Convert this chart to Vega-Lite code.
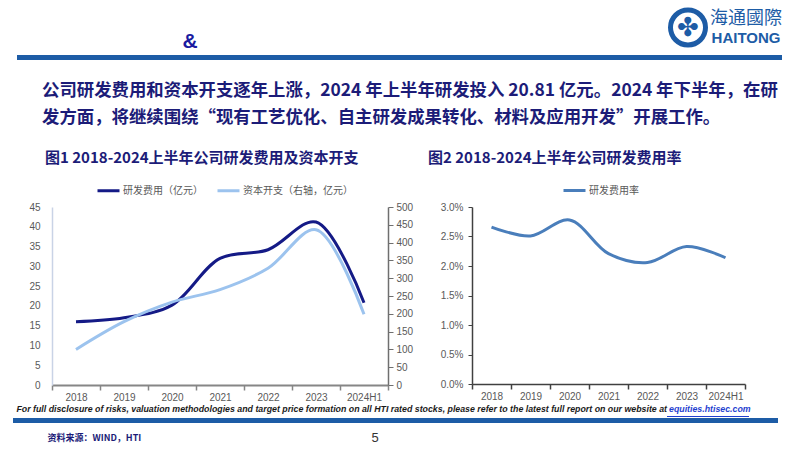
{
  "$schema": "https://vega.github.io/schema/vega-lite/v6.json",
  "padding": 0,
  "background": "white",
  "spacing": 0,
  "resolve": {"scale": {"x": "independent", "y": "independent", "color": "independent"}, "legend": {"color": "independent"}},
  "config": {
    "view": {"stroke": null},
    "concat": {"spacing": 0},
    "font": "Noto Sans CJK SC"
  },
  "datasets": {
    "one": [{"k": 1}],
    "amp": [{"t": "&"}],
    "logo1": [{"t": "海通國際"}],
    "logo2": [{"t": "HAITONG"}],
    "src": [{"t": "资料来源：WIND，HTI"}],
    "page": [{"t": "5"}],
    "rd": [
      {"year": "2018", "series": "研发费用（亿元）", "value": 16.0},
      {"year": "2019", "series": "研发费用（亿元）", "value": 17.0},
      {"year": "2020", "series": "研发费用（亿元）", "value": 20.2},
      {"year": "2021", "series": "研发费用（亿元）", "value": 32.0},
      {"year": "2022", "series": "研发费用（亿元）", "value": 34.2},
      {"year": "2023", "series": "研发费用（亿元）", "value": 41.2},
      {"year": "2024H1", "series": "研发费用（亿元）", "value": 20.81},
      {"year": "2018", "series": "资本开支（右轴，亿元）", "value": 100},
      {"year": "2019", "series": "资本开支（右轴，亿元）", "value": 178},
      {"year": "2020", "series": "资本开支（右轴，亿元）", "value": 233},
      {"year": "2021", "series": "资本开支（右轴，亿元）", "value": 268},
      {"year": "2022", "series": "资本开支（右轴，亿元）", "value": 328},
      {"year": "2023", "series": "资本开支（右轴，亿元）", "value": 436},
      {"year": "2024H1", "series": "资本开支（右轴，亿元）", "value": 199}
    ],
    "rate": [
      {"yr": "2018", "s": "研发费用率", "r": 0.0266},
      {"yr": "2019", "s": "研发费用率", "r": 0.0251},
      {"yr": "2020", "s": "研发费用率", "r": 0.0278},
      {"yr": "2021", "s": "研发费用率", "r": 0.0221},
      {"yr": "2022", "s": "研发费用率", "r": 0.0206},
      {"yr": "2023", "s": "研发费用率", "r": 0.0233},
      {"yr": "2024H1", "s": "研发费用率", "r": 0.0214}
    ]
  },
  "vconcat": [
    {
      "bounds": "flush",
      "hconcat": [
        {
          "width": 380, "height": 55,
          "data": {"name": "amp"},
          "layer": [
            {"mark": {"type": "rect", "opacity": 0}, "encoding": {}},
            {"mark": {"type": "text", "fontSize": 21, "fontWeight": "bold", "color": "#1a1aa0", "font": "Liberation Sans", "dy": 14}, "encoding": {"text": {"field": "t"}}}
          ]
        },
        {"width": 286, "height": 55, "data": {"name": "one"}, "mark": {"type": "rect", "opacity": 0}, "encoding": {}},
        {
          "width": 44, "height": 55,
          "data": {"name": "one"},
          "layer": [
            {"mark": {"type": "point", "shape": "circle", "size": 1225, "filled": false, "stroke": "#1d5ca6", "strokeWidth": 5, "opacity": 1}, "encoding": {}},
            {"mark": {"type": "text", "text": "✤", "fontSize": 26, "color": "#1d5ca6", "font": "DejaVu Sans"}, "encoding": {}}
          ]
        },
        {
          "width": 72, "height": 55,
          "layer": [
            {"data": {"name": "logo1"}, "mark": {"type": "text", "fontSize": 18, "color": "#1d5ca6", "dy": -9}, "encoding": {"text": {"field": "t"}}},
            {"data": {"name": "logo2"}, "mark": {"type": "text", "fontSize": 15, "fontWeight": "bold", "font": "Liberation Sans", "color": "#1d5ca6", "dy": 10}, "encoding": {"text": {"field": "t"}}}
          ]
        }
      ]
    },
    {
      "bounds": "flush",
      "hconcat": [
        {"width": 17, "height": 96, "data": {"name": "one"}, "mark": {"type": "rect", "opacity": 0}, "encoding": {}},
        {
          "width": 765, "height": 5,
          "data": {"name": "one"},
          "mark": {"type": "rect", "color": "#1d5ca6"},
          "encoding": {},
          "title": {
            "text": ["公司研发费用和资本开支逐年上涨，2024 年上半年研发投入 20.81 亿元。2024 年下半年，在研", "发方面，将继续围绕“现有工艺优化、自主研发成果转化、材料及应用开发”开展工作。"],
            "orient": "bottom", "anchor": "start", "frame": "group", "dx": 25, "offset": 21.5,
            "fontSize": 17.4, "fontWeight": "bold", "color": "#1c1c78", "lineHeight": 27, "font": "Noto Sans CJK SC"
          }
        }
      ]
    },
    {
      "bounds": "flush",
      "resolve": {"scale": {"x": "independent", "y": "independent", "color": "independent"}, "legend": {"color": "independent"}},
      "hconcat": [
        {"width": 52, "height": 198, "data": {"name": "one"}, "mark": {"type": "rect", "opacity": 0}, "encoding": {}},
        {
          "width": 336, "height": 178,
          "data": {"name": "rd"},
          "title": {"text": "图1 2018-2024上半年公司研发费用及资本开支", "anchor": "start", "frame": "group", "dx": -7, "offset": 12, "fontSize": 15, "fontWeight": "bold", "color": "#1c1c78", "font": "Noto Sans CJK SC"},
          "encoding": {
            "x": {
              "field": "year", "type": "ordinal", "sort": null, "bandPosition": 0.5,
              "scale": {"type": "band", "paddingInner": 0, "paddingOuter": 0},
              "axis": {"title": null, "labelAngle": 0, "domainColor": "#868686", "domainWidth": 2, "tickColor": "#868686", "tickWidth": 1.5, "tickSize": 5, "tickBand": "extent", "labelColor": "#595959", "labelFontSize": 10, "labelFont": "Liberation Sans", "labelPadding": 2}
            }
          },
          "layer": [
            {
              "transform": [{"filter": "datum.series === '研发费用（亿元）'"}],
              "mark": {"type": "line", "interpolate": "catmull-rom", "strokeWidth": 3},
              "encoding": {
                "y": {"field": "value", "type": "quantitative", "scale": {"domain": [0, 45]},
                  "axis": {"title": null, "orient": "left", "values": [0, 5, 10, 15, 20, 25, 30, 35, 40, 45], "grid": false, "ticks": false, "domainColor": "#c9d3e6", "domainWidth": 1.5, "labelColor": "#595959", "labelFontSize": 10, "labelFont": "Liberation Sans", "labelPadding": 12}},
                "color": {"field": "series", "type": "nominal",
                  "scale": {"domain": ["研发费用（亿元）", "资本开支（右轴，亿元）"], "range": ["#141a86", "#9cc3ee"]},
                  "legend": {"title": null, "orient": "none", "legendX": 44, "legendY": -29, "direction": "horizontal", "symbolType": "stroke", "symbolStrokeWidth": 3, "symbolSize": 484, "labelFontSize": 10, "labelColor": "#595959", "labelFont": "Noto Sans CJK SC", "columnPadding": 8, "labelOffset": 2}}
              }
            },
            {
              "transform": [{"filter": "datum.series === '资本开支（右轴，亿元）'"}],
              "mark": {"type": "line", "interpolate": "catmull-rom", "strokeWidth": 3},
              "encoding": {
                "y": {"field": "value", "type": "quantitative", "scale": {"domain": [0, 500]},
                  "axis": {"title": null, "orient": "right", "values": [0, 50, 100, 150, 200, 250, 300, 350, 400, 450, 500], "grid": false, "domainColor": "#6f6f6f", "domainWidth": 1.5, "tickColor": "#6f6f6f", "tickSize": 5, "labelColor": "#595959", "labelFontSize": 10, "labelFont": "Liberation Sans", "labelPadding": 3}},
                "color": {"field": "series", "type": "nominal"}
              }
            }
          ],
          "resolve": {"scale": {"y": "independent"}, "axis": {"y": "independent"}}
        },
        {"width": 84, "height": 178, "data": {"name": "one"}, "mark": {"type": "rect", "opacity": 0}, "encoding": {}},
        {
          "width": 273, "height": 177,
          "data": {"name": "rate"},
          "title": {"text": "图2 2018-2024上半年公司研发费用率", "anchor": "start", "frame": "group", "dx": -44, "offset": 12, "fontSize": 15, "fontWeight": "bold", "color": "#1c1c78", "font": "Noto Sans CJK SC"},
          "mark": {"type": "line", "interpolate": "catmull-rom", "strokeWidth": 3},
          "encoding": {
            "x": {
              "field": "yr", "type": "ordinal", "sort": null, "bandPosition": 0.5,
              "scale": {"type": "band", "paddingInner": 0, "paddingOuter": 0},
              "axis": {"title": null, "labelAngle": 0, "domainColor": "#404040", "domainWidth": 1.5, "tickColor": "#404040", "tickWidth": 1.5, "tickSize": 5, "tickBand": "extent", "labelColor": "#595959", "labelFontSize": 10, "labelFont": "Liberation Sans", "labelPadding": 2}
            },
            "y": {"field": "r", "type": "quantitative", "scale": {"domain": [0, 0.03]},
              "axis": {"title": null, "format": ".1%", "values": [0, 0.005, 0.01, 0.015, 0.02, 0.025, 0.03], "grid": false, "domainColor": "#404040", "domainWidth": 1.5, "tickColor": "#404040", "tickSize": 4, "labelColor": "#595959", "labelFontSize": 10, "labelFont": "Liberation Sans", "labelPadding": 5}},
            "color": {"field": "s", "type": "nominal",
              "scale": {"domain": ["研发费用率"], "range": ["#4a7ebb"]},
              "legend": {"title": null, "orient": "none", "legendX": 90, "legendY": -29, "direction": "horizontal", "symbolType": "stroke", "symbolStrokeWidth": 3, "symbolSize": 484, "labelFontSize": 10, "labelColor": "#595959", "labelFont": "Noto Sans CJK SC", "labelOffset": 2}}
          }
        }
      ]
    },
    {
      "bounds": "flush",
      "hconcat": [
        {"width": 22, "height": 2, "data": {"name": "one"}, "mark": {"type": "rect", "opacity": 0}, "encoding": {}},
        {
          "width": 645, "height": 1,
          "data": {"name": "one"},
          "mark": {"type": "rect", "opacity": 0},
          "encoding": {},
          "title": {"text": "For full disclosure of risks, valuation methodologies and target price formation on all HTI rated stocks, please refer to the latest full report on our website at", "orient": "top", "anchor": "end", "frame": "group", "offset": 2, "fontSize": 8.8, "fontStyle": "italic", "fontWeight": "bold", "font": "Liberation Sans", "color": "#1a1a1a"}
        },
        {
          "width": 82, "height": 1,
          "data": {"name": "one"},
          "mark": {"type": "rect", "color": "#1f3fd0"},
          "encoding": {},
          "title": {"text": "equities.htisec.com", "orient": "top", "anchor": "start", "frame": "group", "offset": 2, "dx": 2, "fontSize": 8.8, "fontStyle": "italic", "fontWeight": "bold", "font": "Liberation Sans", "color": "#1f3fd0"}
        }
      ]
    },
    {
      "bounds": "flush",
      "hconcat": [
        {"width": 13, "height": 5, "data": {"name": "one"}, "mark": {"type": "rect", "opacity": 0}, "encoding": {}},
        {"width": 765, "height": 5, "data": {"name": "one"}, "mark": {"type": "rect", "color": "#1d5ca6"}, "encoding": {}}
      ]
    },
    {
      "bounds": "flush",
      "hconcat": [
        {"width": 47, "height": 29, "data": {"name": "one"}, "mark": {"type": "rect", "opacity": 0}, "encoding": {}},
        {"width": 1, "height": 29, "data": {"name": "src"}, "mark": {"type": "text", "align": "left", "fontSize": 9, "fontWeight": "bold", "color": "#1c1c78", "font": "Noto Sans CJK SC"}, "encoding": {"text": {"field": "t"}}},
        {"width": 317, "height": 29, "data": {"name": "one"}, "mark": {"type": "rect", "opacity": 0}, "encoding": {}},
        {"width": 20, "height": 29, "data": {"name": "page"}, "mark": {"type": "text", "fontSize": 13, "color": "#333333", "font": "Liberation Sans"}, "encoding": {"text": {"field": "t"}}}
      ]
    }
  ]
}
